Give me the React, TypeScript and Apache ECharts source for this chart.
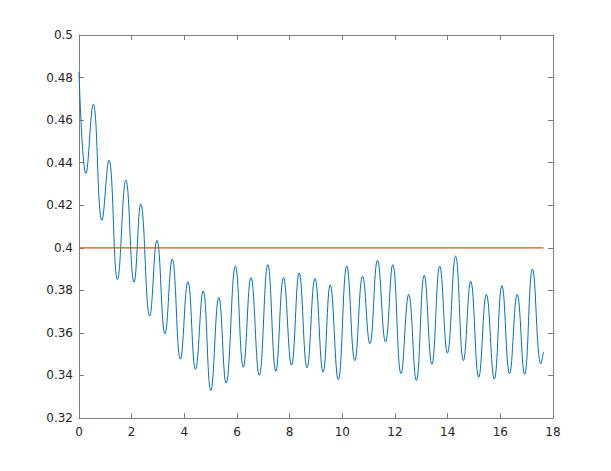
import React, { useEffect, useRef } from "react";
import * as echarts from "echarts";

// Extrema (and end points) of the blue curve
const tValues = [
  0, 0.265, 0.54, 0.87, 1.135, 1.46, 1.78, 2.09, 2.345, 2.685, 2.96, 3.265, 3.54, 3.85,
  4.135, 4.425, 4.715, 5.005, 5.31, 5.585, 5.94, 6.24, 6.53, 6.845, 7.17, 7.475, 7.765,
  8.07, 8.36, 8.66, 8.96, 9.27, 9.54, 9.845, 10.17, 10.475, 10.77, 11.045, 11.335, 11.64,
  11.915, 12.23, 12.52, 12.81, 13.11, 13.4, 13.7, 13.99, 14.3, 14.6, 14.875, 15.18, 15.47,
  15.77, 16.06, 16.35, 16.64, 16.92, 17.22, 17.54, 17.64,
];
const yValues = [
  0.4827, 0.4349, 0.4674, 0.4129, 0.4412, 0.385, 0.4318, 0.3838, 0.4205, 0.3679, 0.4035,
  0.3596, 0.3947, 0.3477, 0.3841, 0.3428, 0.3797, 0.3329, 0.3767, 0.3364, 0.3914, 0.3439,
  0.386, 0.3401, 0.3921, 0.342, 0.386, 0.3448, 0.3881, 0.3436, 0.3856, 0.3415, 0.3825,
  0.338, 0.3914, 0.347, 0.3866, 0.3549, 0.3941, 0.3557, 0.3921, 0.3408, 0.3781, 0.3376,
  0.3871, 0.3452, 0.3914, 0.3505, 0.3961, 0.347, 0.3842, 0.3392, 0.3781, 0.3383, 0.3822,
  0.3408, 0.3781, 0.3405, 0.39, 0.3455, 0.3511,
];
const refT = [0, 17.64];
const refY = [0.4, 0.4];

const AXIS = "#7f7f7f";
const TEXT = "#262626";

export default function App() {
  const ref = useRef<HTMLDivElement>(null);
  useEffect(() => {
    if (!ref.current) return;
    const chart = echarts.init(ref.current, undefined, { renderer: "svg" });
    const tick = { show: true, inside: true, length: 5, lineStyle: { color: AXIS } };
    const line = { show: true, onZero: false, lineStyle: { color: AXIS, width: 1 } };
    const label = { color: TEXT, fontSize: 12, fontFamily: "DejaVu Sans" };
    chart.setOption({
      animation: false,
      backgroundColor: "#ffffff",
      grid: { left: 79, right: 58, top: 35, bottom: 53, containLabel: false },
      xAxis: [
        {
          type: "value", min: 0, max: 18, interval: 2, position: "bottom",
          axisLine: line, axisTick: tick, splitLine: { show: false },
          axisLabel: { ...label, margin: 8 },
        },
        {
          type: "value", min: 0, max: 18, interval: 2, position: "top",
          axisLine: line, axisTick: tick, splitLine: { show: false },
          axisLabel: { show: false },
        },
      ],
      yAxis: [
        {
          type: "value", min: 0.32, max: 0.5, interval: 0.02, position: "left",
          axisLine: line, axisTick: tick, splitLine: { show: false },
          axisLabel: { ...label, margin: 6 },
        },
        {
          type: "value", min: 0.32, max: 0.5, interval: 0.02, position: "right",
          axisLine: line, axisTick: tick, splitLine: { show: false },
          axisLabel: { show: false },
        },
      ],
      series: [
        {
          type: "line",
          data: tValues.map((t, i) => [t, yValues[i]]),
          smooth: 0.45,
          showSymbol: false,
          lineStyle: { color: "#0072BD", width: 1 },
        },
        {
          type: "line",
          data: refT.map((t, i) => [t, refY[i]]),
          showSymbol: false,
          lineStyle: { color: "#D95319", width: 1.2 },
        },
      ],
    });
    return () => chart.dispose();
  }, []);
  return <div ref={ref} style={{ width: 611, height: 471, margin: -8 }} />;
}
